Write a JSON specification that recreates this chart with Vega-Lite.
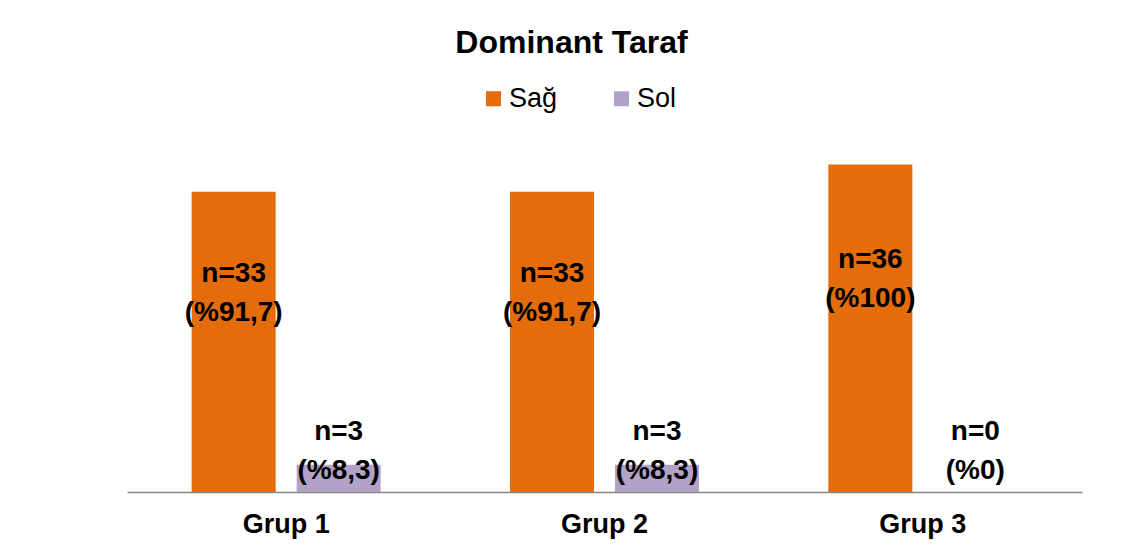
{
  "$schema": "https://vega.github.io/schema/vega-lite/v6.json",
  "width": 955,
  "height": 364,
  "autosize": {"type": "none"},
  "padding": {"left": 127, "top": 128, "right": 50, "bottom": 58},
  "background": "white",
  "title": {
    "text": "Dominant Taraf",
    "font": "Liberation Sans",
    "fontSize": 32,
    "fontWeight": "bold",
    "color": "black",
    "anchor": "middle",
    "frame": "group",
    "dx": -33,
    "dy": -21
  },
  "data": {
    "values": [
      {"group": "Grup 1", "side": "Sağ", "value": 33, "label": "n=33\n(%91,7)"},
      {"group": "Grup 1", "side": "Sol", "value": 3, "label": "n=3\n(%8,3)"},
      {"group": "Grup 2", "side": "Sağ", "value": 33, "label": "n=33\n(%91,7)"},
      {"group": "Grup 2", "side": "Sol", "value": 3, "label": "n=3\n(%8,3)"},
      {"group": "Grup 3", "side": "Sağ", "value": 36, "label": "n=36\n(%100)"},
      {"group": "Grup 3", "side": "Sol", "value": 0, "label": "n=0\n(%0)"}
    ]
  },
  "encoding": {
    "x": {
      "field": "group",
      "type": "nominal",
      "scale": {"paddingInner": 0, "paddingOuter": 0},
      "axis": {
        "title": null,
        "labelAngle": 0,
        "labelFont": "Liberation Sans",
        "labelFontSize": 27,
        "labelFontWeight": "bold",
        "labelColor": "black",
        "labelPadding": 19,
        "ticks": false,
        "tickSize": 0,
        "grid": false,
        "domainColor": "#868686",
        "domainWidth": 1.5
      }
    },
    "xOffset": {
      "field": "side",
      "type": "nominal",
      "scale": {"paddingInner": 0.2, "paddingOuter": 0.616}
    }
  },
  "layer": [
    {
      "mark": {"type": "bar"},
      "encoding": {
        "y": {
          "field": "value",
          "type": "quantitative",
          "scale": {"domain": [0, 40], "nice": false},
          "axis": null
        },
        "color": {
          "field": "side",
          "type": "nominal",
          "scale": {"domain": ["Sağ", "Sol"], "range": ["#E46C0A", "#B3A2C7"]},
          "legend": {
            "title": null,
            "orient": "none",
            "legendX": 353,
            "legendY": -43,
            "direction": "horizontal",
            "symbolType": "square",
            "symbolSize": 225,
            "symbolStrokeWidth": 0,
            "labelFont": "Liberation Sans",
            "labelFontSize": 27,
            "labelColor": "black",
            "labelOffset": 2,
            "columnPadding": 50
          }
        }
      }
    },
    {
      "transform": [
        {"calculate": "datum.side == 'Sağ' ? datum.value / 2 + 7.5 : max(datum.value + 3.0, 6.6)", "as": "labelY"}
      ],
      "mark": {
        "type": "text",
        "font": "Liberation Sans",
        "fontSize": 28,
        "fontWeight": "bold",
        "color": "black",
        "baseline": "middle",
        "align": "center",
        "lineBreak": "\n",
        "lineHeight": 39
      },
      "encoding": {
        "y": {"field": "labelY", "type": "quantitative"},
        "text": {"field": "label"}
      }
    }
  ],
  "config": {
    "view": {"stroke": null}
  }
}
